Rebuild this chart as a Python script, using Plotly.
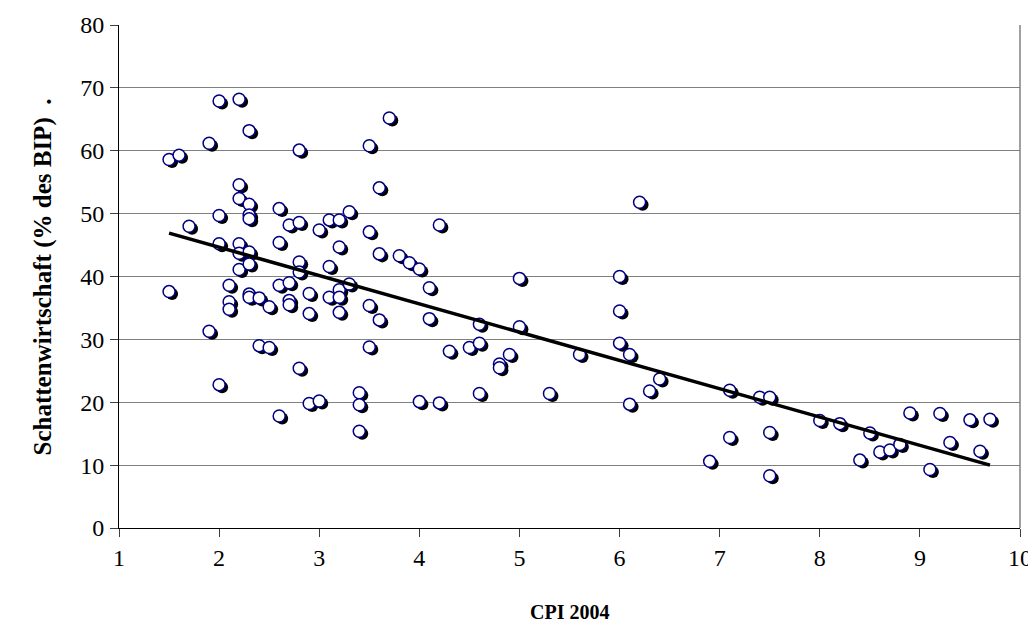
import plotly.graph_objects as go

cpi = [1.5, 1.6, 1.5, 1.7, 1.9, 1.9, 2.0, 2.0, 2.0, 2.0,
       2.1, 2.1, 2.1, 2.2, 2.2, 2.2, 2.2, 2.2, 2.2, 2.3,
       2.3, 2.3, 2.3, 2.3, 2.3, 2.3, 2.3, 2.4, 2.4, 2.5,
       2.5, 2.6, 2.6, 2.6, 2.6, 2.7, 2.7, 2.7, 2.7, 2.8,
       2.8, 2.8, 2.8, 2.8, 2.9, 2.9, 2.9, 3.0, 3.0, 3.1,
       3.1, 3.1, 3.2, 3.2, 3.2, 3.2, 3.2, 3.3, 3.3, 3.4,
       3.4, 3.4, 3.5, 3.5, 3.5, 3.5, 3.6, 3.6, 3.6, 3.7,
       3.8, 3.9, 4.0, 4.0, 4.1, 4.1, 4.2, 4.2, 4.3, 4.5,
       4.6, 4.6, 4.6, 4.8, 4.8, 4.9, 5.0, 5.0, 5.3, 5.6,
       6.0, 6.0, 6.0, 6.1, 6.1, 6.2, 6.3, 6.4, 6.9, 7.1,
       7.1, 7.4, 7.5, 7.5, 7.5, 8.0, 8.2, 8.4, 8.5, 8.6,
       8.7, 8.8, 8.9, 9.1, 9.2, 9.3, 9.5, 9.6, 9.7]
shadow = [58.6, 59.3, 37.6, 48.0, 61.2, 31.3, 67.9, 49.7, 45.2, 22.8,
          38.6, 36.0, 34.8, 68.2, 54.6, 52.4, 45.2, 43.7, 41.1, 63.2,
          51.5, 49.8, 49.2, 43.9, 42.0, 37.2, 36.7, 36.6, 29.0, 35.2,
          28.7, 50.8, 45.4, 38.6, 17.8, 48.2, 39.0, 36.2, 35.5, 60.1,
          48.6, 42.3, 40.7, 25.4, 37.3, 34.1, 19.8, 47.4, 20.2, 49.0,
          41.6, 36.7, 49.0, 44.7, 37.9, 36.7, 34.3, 50.3, 38.8, 21.5,
          19.6, 15.4, 60.8, 47.1, 35.4, 28.8, 54.1, 43.6, 33.1, 65.2,
          43.3, 42.2, 41.2, 20.1, 38.2, 33.3, 48.2, 19.9, 28.1, 28.7,
          32.4, 29.4, 21.4, 26.1, 25.5, 27.6, 39.7, 32.0, 21.4, 27.6,
          40.0, 34.5, 29.4, 27.6, 19.7, 51.8, 21.8, 23.7, 10.6, 21.9,
          14.4, 20.8, 20.8, 15.2, 8.3, 17.1, 16.6, 10.8, 15.1, 12.1,
          12.4, 13.3, 18.3, 9.3, 18.2, 13.6, 17.2, 12.2, 17.3]

trend_x = [1.5, 9.7]
trend_y = [46.9, 10.0]

x_ticks = [1, 2, 3, 4, 5, 6, 7, 8, 9, 10]
y_ticks = [0, 10, 20, 30, 40, 50, 60, 70, 80]

FONT = "Liberation Serif"
X_RANGE = [1, 10]
Y_RANGE = [0, 80]
# drop-shadow offset: base axes use slightly shifted ranges (about 3 px right, 2.5 px down)
dx, dy = 0.03, 0.40

fig = go.Figure()

# shadows on the base axes (hidden ticks, shifted range)
fig.add_trace(go.Scatter(
    x=cpi, y=shadow, mode="markers",
    marker=dict(size=12, color="black", line=dict(width=0)),
    hoverinfo="skip", showlegend=False))

# markers + trend on the overlay axes with the true ranges (visible axes)
fig.add_trace(go.Scatter(
    x=cpi, y=shadow, mode="markers", xaxis="x2", yaxis="y2",
    marker=dict(size=12, color="white", line=dict(width=1.5, color="#000080")),
    showlegend=False))

fig.add_trace(go.Scatter(
    x=trend_x, y=trend_y, mode="lines", xaxis="x2", yaxis="y2",
    line=dict(color="black", width=3.5), showlegend=False))

fig.update_layout(
    width=1028, height=615,
    margin=dict(l=111, r=16, t=17, b=95, autoexpand=False),
    paper_bgcolor="white", plot_bgcolor="white",
    font=dict(family=FONT, size=24, color="black"),
    xaxis=dict(range=[X_RANGE[0] - dx, X_RANGE[1] - dx], showticklabels=False,
               ticks="", showgrid=False, zeroline=False, showline=False,
               automargin=False),
    yaxis=dict(range=[Y_RANGE[0] + dy, Y_RANGE[1] + dy], showticklabels=False,
               ticks="", showgrid=False, zeroline=False, showline=False,
               automargin=False),
    xaxis2=dict(range=X_RANGE, tickvals=x_ticks, overlaying="x", side="bottom",
                showgrid=False, zeroline=False, automargin=False,
                showline=True, linecolor="black", linewidth=1,
                ticks="outside", ticklen=8, tickcolor="#404040",
                ticklabelstandoff=0, ticklabeloverflow="allow",
                tickfont=dict(family=FONT, size=24)),
    yaxis2=dict(range=Y_RANGE, tickvals=y_ticks, overlaying="y", side="left",
                showgrid=True, gridcolor="#808080", gridwidth=1, zeroline=False,
                automargin=False,
                showline=True, linecolor="black", linewidth=1,
                ticks="outside", ticklen=8, tickcolor="#404040",
                ticklabelstandoff=1, ticklabeloverflow="allow",
                tickfont=dict(family=FONT, size=24)),
    shapes=[dict(type="line", xref="x2 domain", yref="y2 domain", x0=1, x1=1, y0=0, y1=1,
                 line=dict(color="#808080", width=1.5))],
    annotations=[
        dict(text="<b>CPI 2004</b>", xref="paper", yref="paper", x=0.5, y=-0.167,
             xanchor="center", yanchor="middle", showarrow=False,
             font=dict(family=FONT, size=20)),
        dict(text="<b>Schattenwirtschaft (% des BIP)  .</b>", xref="paper", yref="paper",
             x=-0.0844, y=0.5, xanchor="center", yanchor="middle", textangle=-90,
             showarrow=False, font=dict(family=FONT, size=25)),
    ],
)

fig.write_html("out.html")
